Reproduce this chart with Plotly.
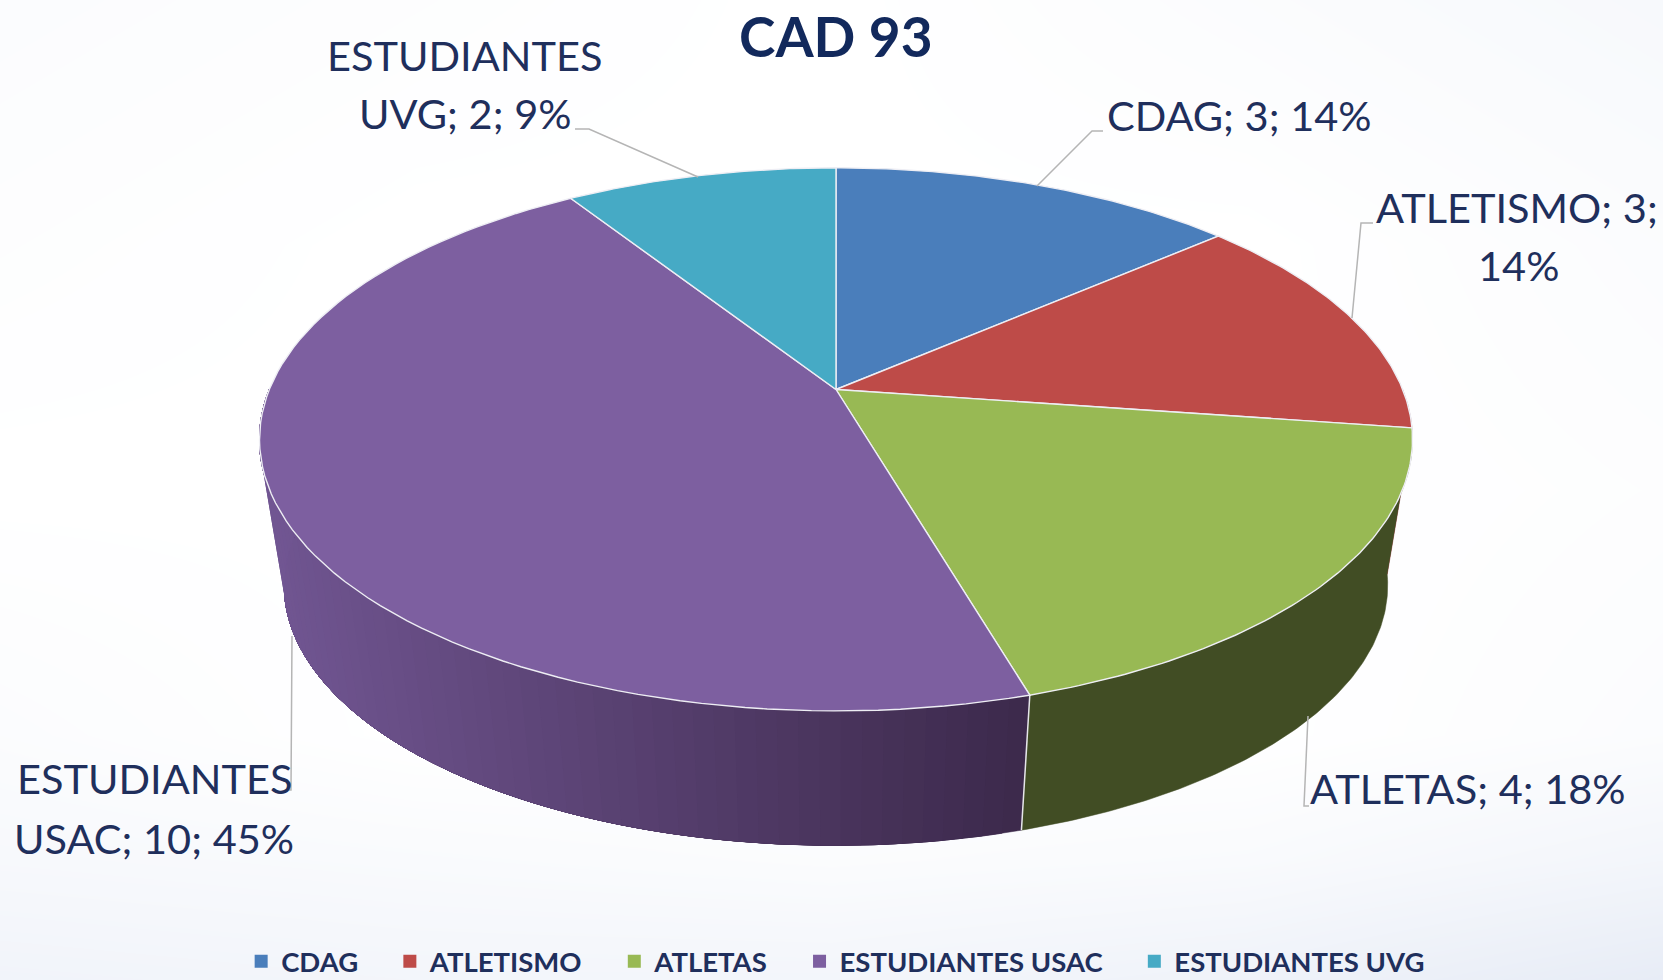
import numpy as np
import plotly.graph_objects as go

categories = ["CDAG", "ATLETISMO", "ATLETAS", "ESTUDIANTES USAC", "ESTUDIANTES UVG"]
values = [3, 3, 4, 10, 2]
percents = [14, 14, 18, 45, 9]
top_colors = ["#4a7ebb", "#be4b48", "#98b954", "#7d5fa0", "#46aac5"]
side_left = ["#35598a", "#8a3532", "#414d24", "#705591", "#31788c"]
side_right = ["#35598a", "#8a3532", "#414d24", "#3c294b", "#31788c"]
title_text = "CAD 93"

W, H = 1663, 980
CX, CY, RX, RY, P = 836.0, 389.5, 566.7, 262.4, 0.1836
BOTTOM_CY, BOTTOM_S = 537.7, 0.957
NAVY = "#1f2f5c"
FONT = "Lato"


def rim(theta, cy=CY, s=1.0):
    w = 1 + P * np.cos(theta)
    return CX + s * RX * np.sin(theta) / w, cy - s * RY * np.cos(theta) / w


def blend(c1, c2, t):
    a = [int(c1[i:i + 2], 16) for i in (1, 3, 5)]
    b = [int(c2[i:i + 2], 16) for i in (1, 3, 5)]
    return "rgb(%d,%d,%d)" % tuple(round(x + (y - x) * t) for x, y in zip(a, b))


fig = go.Figure()

# faint page background
bg_x = [0, 416, 832, 1247, 1663]
bg_y = [0, 245, 490, 735, 860, 980]
bg_z = [
    [2, 1, 0, 2, 4],
    [1, 0, 0, 0, 2],
    [0, 0, 0, 0, 1],
    [2, 0, 0, 0, 2],
    [4, 3, 2, 3, 6],
    [7, 6, 6, 8, 12],
]
fig.add_trace(go.Heatmap(x=bg_x, y=bg_y, z=bg_z, zsmooth="best", showscale=False, hoverinfo="skip",
                         zmin=0, zmax=12, colorscale=[[0, "#ffffff"], [1, "#e7ecf6"]]))

edges = 2 * np.pi * np.cumsum([0] + values) / sum(values)

# walls of the slices: each layer covers from its start to the slice end, painted in order
for i in range(len(values)):
    lo, hi = edges[i], edges[i + 1]
    if hi <= np.pi / 2 or lo >= 3 * np.pi / 2:
        continue
    lo, hi = max(lo, np.pi / 2), min(hi, 3 * np.pi / 2)
    gradient = side_left[i] != side_right[i]
    n = 60 if gradient else 1
    ts = np.linspace(lo, hi, n + 1)
    xs = rim(lo)[0], rim(hi)[0]
    for j in range(n):
        t = np.linspace(ts[j], hi, 120)
        x1, y1 = rim(t)
        x2, y2 = rim(t[::-1], BOTTOM_CY, BOTTOM_S)
        xm = rim((ts[j] + ts[j + 1]) / 2)[0]
        frac = (xs[0] - xm) / (xs[0] - xs[1]) if gradient else 0
        col = blend(side_right[i], side_left[i], frac)
        fig.add_trace(go.Scatter(x=np.r_[x1, x2], y=np.r_[y1, y2], mode="lines", fill="toself", fillcolor=col,
                                 line=dict(color=col, width=0.5), showlegend=False, hoverinfo="skip"))

# seam between the ATLETAS and ESTUDIANTES USAC walls
seam = edges[3]
sx1, sy1 = rim(seam)
sx2, sy2 = rim(seam, BOTTOM_CY, BOTTOM_S)
fig.add_trace(go.Scatter(x=[sx1, sx2], y=[sy1, sy2], mode="lines", line=dict(color="#e6e6ea", width=1.5),
                         showlegend=False, hoverinfo="skip"))

# top faces
for i, cat in enumerate(categories):
    t = np.linspace(edges[i], edges[i + 1], 90)
    x, y = rim(t)
    fig.add_trace(go.Scatter(x=np.r_[CX, x, CX], y=np.r_[CY, y, CY], mode="lines", fill="toself",
                             fillcolor=top_colors[i], line=dict(color="#eeeef4", width=1.4),
                             showlegend=False, hoverinfo="skip", name=cat))

# legend entries (trailing no-break spaces open the gaps between entries)
for k, (cat, col) in enumerate(zip(categories, top_colors)):
    pad = "\u00a0" * 4 if k < len(categories) - 1 else ""
    fig.add_trace(go.Scatter(x=[None], y=[None], mode="markers", name=cat + pad,
                             marker=dict(symbol="square", size=13, color=col)))

# leader lines
leaders = [
    [(1037, 186), (1092, 131), (1103, 131)],
    [(1352, 318), (1361, 223), (1373, 223)],
    [(1308, 716), (1304, 806), (1309, 806)],
    [(292, 636), (291, 790), (287, 790)],
    [(698, 177), (589, 129), (575, 129)],
]
for pts in leaders:
    path = "M " + " L ".join(f"{a} {b}" for a, b in pts)
    fig.add_shape(type="path", path=path, line=dict(color="#b5b5b5", width=1.5), layer="above", xref="x", yref="y")

# data labels
labels = [
    (f"{categories[0]}; {values[0]}; {percents[0]}%", 1239, 115),
    (f"{categories[1]}; {values[1]};", 1517, 207),
    (f"{percents[1]}%", 1518, 265),
    (f"{categories[2]}; {values[2]}; {percents[2]}%", 1468, 788),
    ("ESTUDIANTES", 154, 778),
    (f"USAC; {values[3]}; {percents[3]}%", 154, 838),
    ("ESTUDIANTES", 464, 55),
    (f"UVG; {values[4]}; {percents[4]}%", 465, 113),
]
for text, x, y in labels:
    fig.add_annotation(x=x, y=y, text=text, showarrow=False, xref="x", yref="y", align="center",
                       font=dict(family=FONT, size=41.5, color=NAVY), xanchor="center", yanchor="middle")

fig.add_annotation(x=836, y=36, text=f"<b>{title_text}</b>", showarrow=False, xref="x", yref="y",
                   font=dict(family=FONT, size=55, color="#12295c"))

fig.update_layout(
    width=W, height=H, margin=dict(l=0, r=0, t=0, b=0, autoexpand=False), paper_bgcolor="white", plot_bgcolor="white",
    xaxis=dict(range=[0, W], visible=False, fixedrange=True),
    yaxis=dict(range=[H, 0], visible=False, fixedrange=True),
    legend=dict(orientation="h", x=0.5025, xanchor="center", y=-0.006, yanchor="bottom",
                font=dict(family=FONT, size=27.5, color=NAVY, weight=700), bgcolor="rgba(0,0,0,0)",
                itemclick=False, itemdoubleclick=False),
)
fig.write_html("out.html", config=dict(displayModeBar=False),
               post_script="document.body.style.margin='0';document.body.style.overflow='hidden';")
